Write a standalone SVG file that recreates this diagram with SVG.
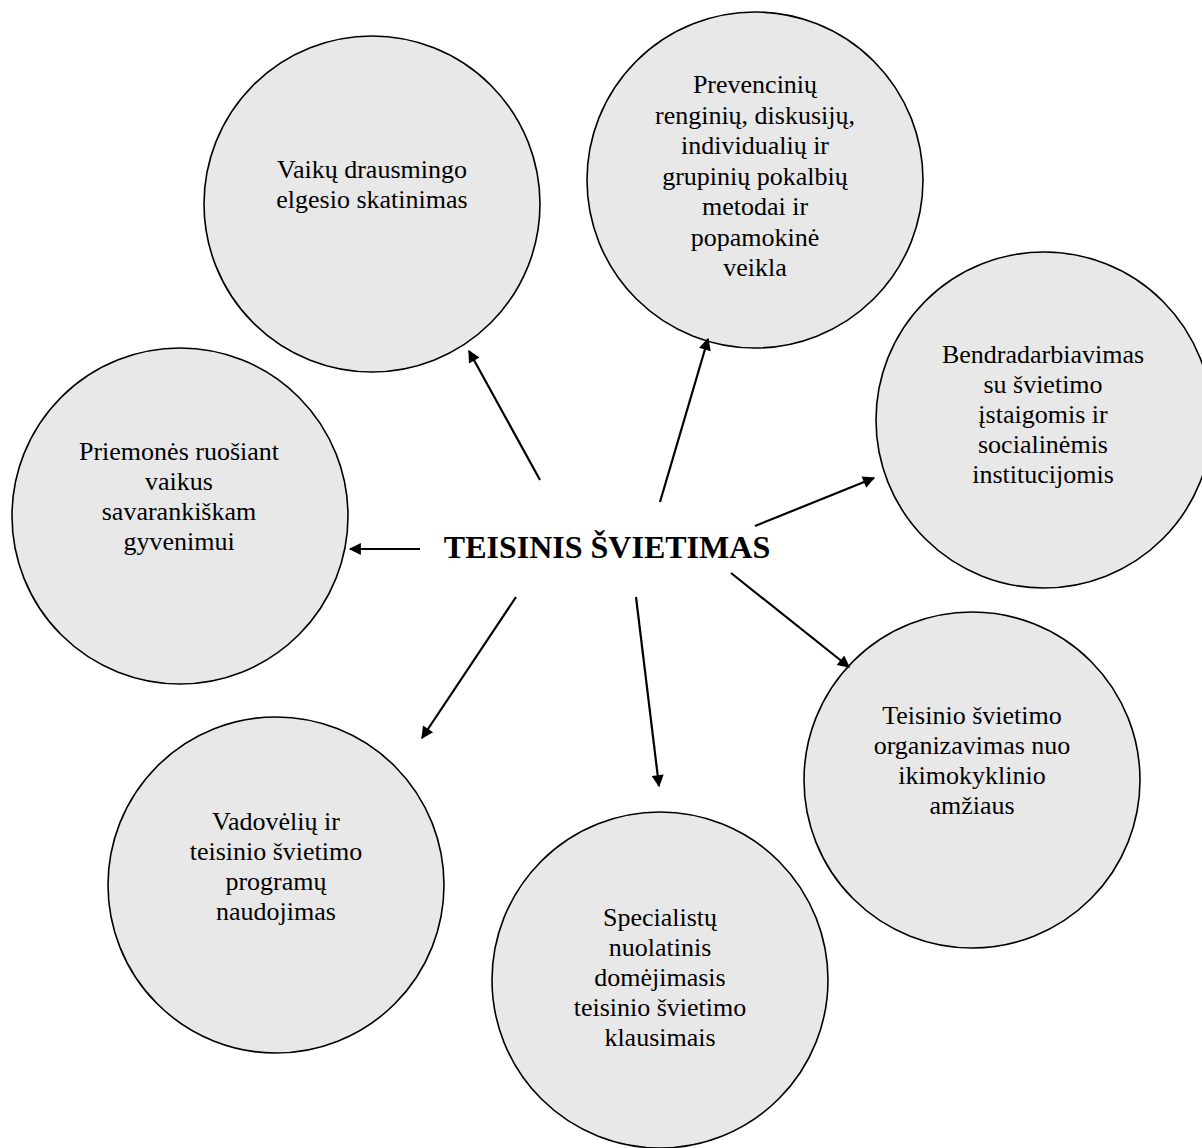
<svg xmlns="http://www.w3.org/2000/svg" width="1202" height="1148" viewBox="0 0 1202 1148">
<style>
.c{fill:#e8e8e8;stroke:#000;stroke-width:1.6}
.t{font-family:"Liberation Serif","Times New Roman",serif;font-size:26px;fill:#000;text-anchor:middle}
.h{font-family:"Liberation Serif","Times New Roman",serif;font-size:32px;font-weight:bold;fill:#000;text-anchor:middle}
.a{stroke:#000;stroke-width:2.2;fill:none;marker-end:url(#ah)}
</style>
<defs>
<marker id="ah" viewBox="0 0 10 10" refX="9" refY="5" markerWidth="6.5" markerHeight="5.5" orient="auto" markerUnits="strokeWidth">
<path d="M0,0 L10,5 L0,10 z" fill="#000"/>
</marker>
</defs>
<rect width="1202" height="1148" fill="#fff"/>
<g id="node-vaiku">
<circle class="c" cx="372" cy="204" r="168"/>
<text class="t" x="372" y="178">Vaikų drausmingo</text>
<text class="t" x="372" y="208">elgesio skatinimas</text>
</g>
<g id="node-prevenciniu">
<circle class="c" cx="755" cy="180" r="168"/>
<text class="t" x="755" y="93">Prevencinių</text>
<text class="t" x="755" y="123.5">renginių, diskusijų,</text>
<text class="t" x="755" y="154">individualių ir</text>
<text class="t" x="755" y="184.5">grupinių pokalbių</text>
<text class="t" x="755" y="215">metodai ir</text>
<text class="t" x="755" y="245.5">popamokinė</text>
<text class="t" x="755" y="276">veikla</text>
</g>
<g id="node-bendradarbiavimas">
<circle class="c" cx="1044" cy="420" r="168"/>
<text class="t" x="1043" y="363">Bendradarbiavimas</text>
<text class="t" x="1043" y="393">su švietimo</text>
<text class="t" x="1043" y="423">įstaigomis ir</text>
<text class="t" x="1043" y="453">socialinėmis</text>
<text class="t" x="1043" y="483">institucijomis</text>
</g>
<g id="node-priemones">
<circle class="c" cx="180" cy="516" r="168"/>
<text class="t" x="179" y="460">Priemonės ruošiant</text>
<text class="t" x="179" y="490">vaikus</text>
<text class="t" x="179" y="520">savarankiškam</text>
<text class="t" x="179" y="550">gyvenimui</text>
</g>
<g id="node-organizavimas">
<circle class="c" cx="972" cy="780" r="168"/>
<text class="t" x="972" y="724">Teisinio švietimo</text>
<text class="t" x="972" y="754">organizavimas nuo</text>
<text class="t" x="972" y="784">ikimokyklinio</text>
<text class="t" x="972" y="814">amžiaus</text>
</g>
<g id="node-vadoveliu">
<circle class="c" cx="276" cy="885" r="168"/>
<text class="t" x="276" y="830">Vadovėlių ir</text>
<text class="t" x="276" y="860">teisinio švietimo</text>
<text class="t" x="276" y="890">programų</text>
<text class="t" x="276" y="920">naudojimas</text>
</g>
<g id="node-specialistu">
<circle class="c" cx="660" cy="980" r="168"/>
<text class="t" x="660" y="926">Specialistų</text>
<text class="t" x="660" y="956">nuolatinis</text>
<text class="t" x="660" y="986">domėjimasis</text>
<text class="t" x="660" y="1016">teisinio švietimo</text>
<text class="t" x="660" y="1046">klausimais</text>
</g>
<g id="node-center">
<text class="h" x="607" y="558">TEISINIS ŠVIETIMAS</text>
</g>
<g id="connectors">
<line class="a" x1="420" y1="549" x2="350" y2="549"/>
<line class="a" x1="540" y1="480" x2="469" y2="351"/>
<line class="a" x1="660" y1="502" x2="708" y2="339"/>
<line class="a" x1="755" y1="526" x2="874" y2="478"/>
<line class="a" x1="731" y1="573" x2="849" y2="667"/>
<line class="a" x1="636" y1="597" x2="659" y2="786"/>
<line class="a" x1="516" y1="597" x2="422" y2="738"/>
</g>
</svg>
